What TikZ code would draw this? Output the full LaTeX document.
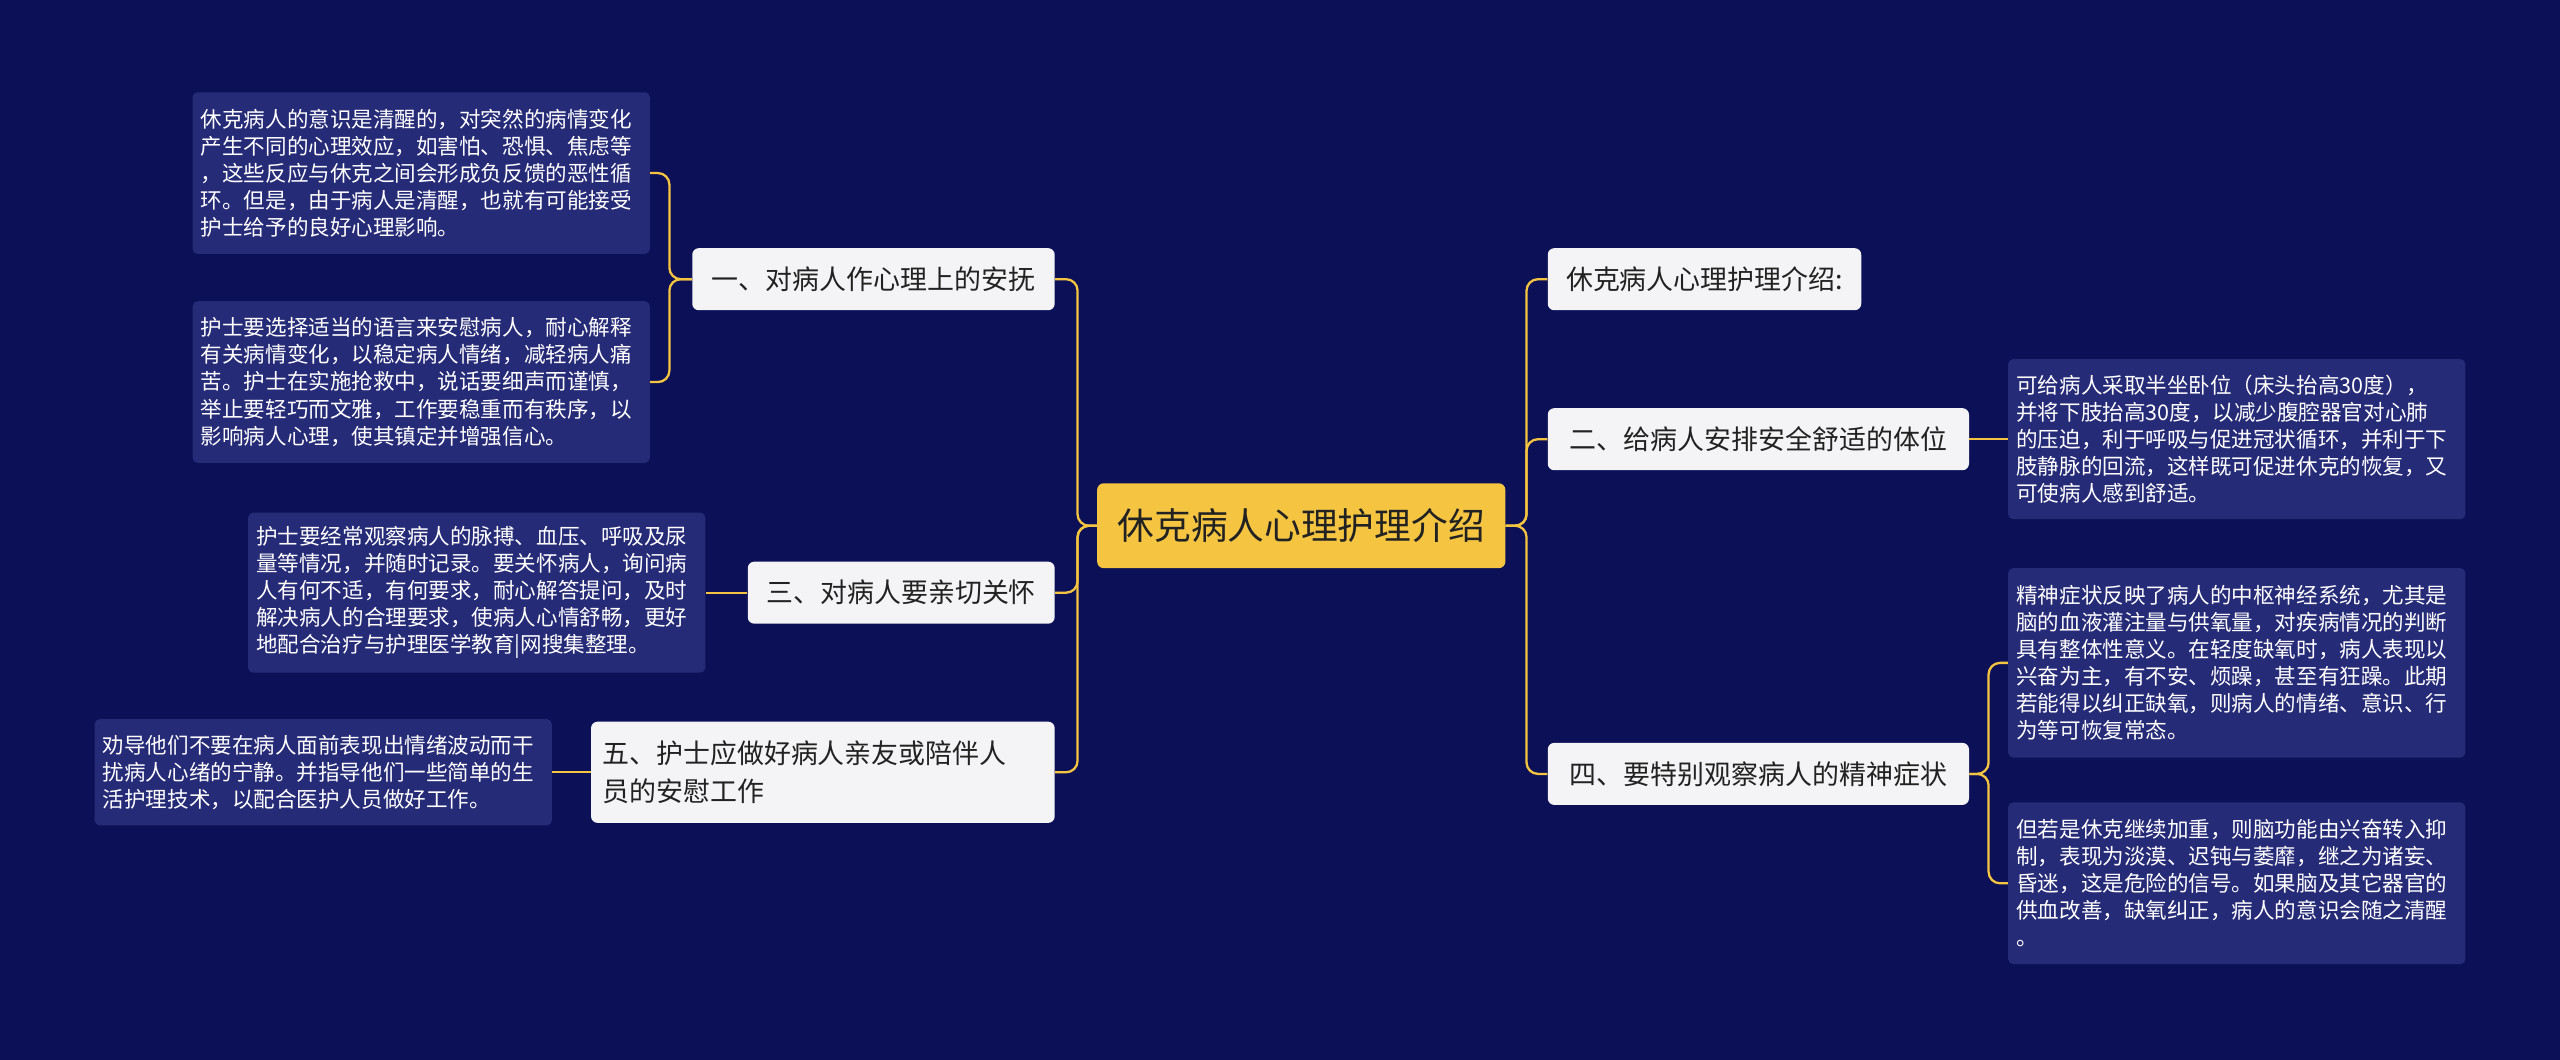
\documentclass[tikz,border=0pt]{standalone}
\usepackage{fontspec}
\setmainfont{Noto Sans CJK SC}
\definecolor{bg}{HTML}{0B1057}
\definecolor{leaf}{HTML}{262B78}
\definecolor{gold}{HTML}{F5C542}
\definecolor{branch}{HTML}{F4F4F6}
\definecolor{ink}{HTML}{222222}
\begin{document}
\begin{tikzpicture}[x=1pt,y=-1pt,
 centerbox/.style={fill=gold,rounded corners=4pt,text=ink,font=\fontsize{22.5}{26}\selectfont,inner sep=0pt},
 branchbox/.style={fill=branch,rounded corners=4pt,text=ink,font=\fontsize{16.5}{23}\selectfont,inner sep=0pt,align=left},
 leafbox/.style={fill=leaf,rounded corners=3pt,text=white,font=\fontsize{13.2}{16.6}\selectfont,inner sep=0pt,align=left},
 conn/.style={draw=gold,line width=1.4pt,rounded corners=7pt}]
\fill[bg] (0,0) rectangle (1568,649);
\useasboundingbox (0,0) rectangle (1568,649);
% center
\node[centerbox,minimum width=250,minimum height=52] (c) at (797,322) {休克病人心理护理介绍};
% branches
\node[branchbox,minimum width=222,minimum height=38] (b1) at (535,171) {一、对病人作心理上的安抚};
\node[branchbox,minimum width=188,minimum height=38] (b3) at (552,363) {三、对病人要亲切关怀};
\node[branchbox,minimum width=284,minimum height=62,text width=270] (b5) at (504,473) {五、护士应做好病人亲友或陪伴人\\员的安慰工作};
\node[branchbox,minimum width=192,minimum height=38] (r1) at (1044,171) {休克病人心理护理介绍:};
\node[branchbox,minimum width=258,minimum height=38] (r2) at (1077,269) {二、给病人安排安全舒适的体位};
\node[branchbox,minimum width=258,minimum height=38] (r4) at (1077,474) {四、要特别观察病人的精神症状};
% leaves
\node[leafbox,minimum width=280,minimum height=99,text width=270] (l1a) at (258,106) {休克病人的意识是清醒的，对突然的病情变化\\产生不同的心理效应，如害怕、恐惧、焦虑等\\，这些反应与休克之间会形成负反馈的恶性循\\环。但是，由于病人是清醒，也就有可能接受\\护士给予的良好心理影响。};
\node[leafbox,minimum width=280,minimum height=99,text width=270] (l1b) at (258,234) {护士要选择适当的语言来安慰病人，耐心解释\\有关病情变化，以稳定病人情绪，减轻病人痛\\苦。护士在实施抢救中，说话要细声而谨慎，\\举止要轻巧而文雅，工作要稳重而有秩序，以\\影响病人心理，使其镇定并增强信心。};
\node[leafbox,minimum width=280,minimum height=98,text width=270] (l3) at (292,363) {护士要经常观察病人的脉搏、血压、呼吸及尿\\量等情况，并随时记录。要关怀病人，询问病\\人有何不适，有何要求，耐心解答提问，及时\\解决病人的合理要求，使病人心情舒畅，更好\\地配合治疗与护理医学教育|网搜集整理。};
\node[leafbox,minimum width=280,minimum height=65,text width=270] (l5) at (198,473) {劝导他们不要在病人面前表现出情绪波动而干\\扰病人心绪的宁静。并指导他们一些简单的生\\活护理技术，以配合医护人员做好工作。};
\node[leafbox,minimum width=280,minimum height=98,text width=270] (r2a) at (1370,269) {可给病人采取半坐卧位（床头抬高30度），\\并将下肢抬高30度，以减少腹腔器官对心肺\\的压迫，利于呼吸与促进冠状循环，并利于下\\肢静脉的回流，这样既可促进休克的恢复，又\\可使病人感到舒适。};
\node[leafbox,minimum width=280,minimum height=116,text width=270] (r4a) at (1370,406) {精神症状反映了病人的中枢神经系统，尤其是\\脑的血液灌注量与供氧量，对疾病情况的判断\\具有整体性意义。在轻度缺氧时，病人表现以\\兴奋为主，有不安、烦躁，甚至有狂躁。此期\\若能得以纠正缺氧，则病人的情绪、意识、行\\为等可恢复常态。};
\node[leafbox,minimum width=280,minimum height=99,text width=270] (r4b) at (1370,541) {但若是休克继续加重，则脑功能由兴奋转入抑\\制，表现为淡漠、迟钝与萎靡，继之为诸妄、\\昏迷，这是危险的信号。如果脑及其它器官的\\供血改善，缺氧纠正，病人的意识会随之清醒\\。};
% connectors center
\coordinate (cl) at (660,322);
\coordinate (cr) at (935,322);
\draw[conn] (c.west) -- (cl) |- (b1.east);
\draw[conn] (c.west) -- (cl) |- (b3.east);
\draw[conn] (c.west) -- (cl) |- (b5.east);
\draw[conn] (c.east) -- (cr) |- (r1.west);
\draw[conn] (c.east) -- (cr) |- (r2.west);
\draw[conn] (c.east) -- (cr) |- (r4.west);
% leaf connectors
\coordinate (k1) at (410,171);
\draw[conn] (b1.west) -- (k1) |- (l1a.east);
\draw[conn] (b1.west) -- (k1) |- (l1b.east);
\draw[conn] (b3.west) -- (l3.east);
\draw[conn] (b5.west) -- (l5.east);
\draw[conn] (r2.east) -- (r2a.west);
\coordinate (k4) at (1218,474);
\draw[conn] (r4.east) -- (k4) |- (r4a.west);
\draw[conn] (r4.east) -- (k4) |- (r4b.west);
\end{tikzpicture}
\end{document}
